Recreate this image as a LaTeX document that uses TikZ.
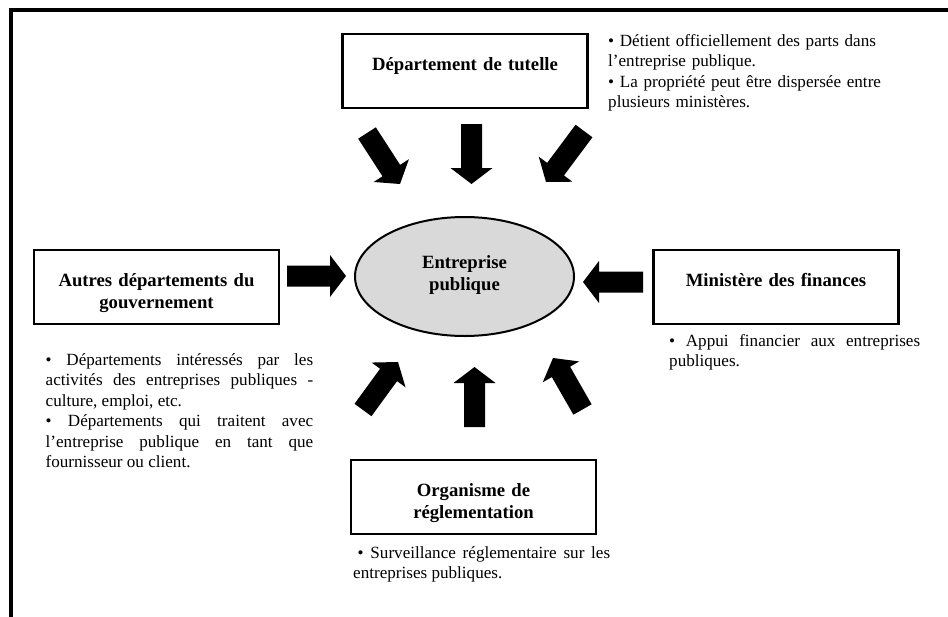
\documentclass[tikz,border=0pt]{standalone}
\usepackage{fontspec}
\setmainfont{Liberation Serif}
\usetikzlibrary{calc,shapes.geometric}
\newcommand\myblockarrow[2]{%
  \coordinate (hb) at ($(#2)!16pt!(#1)$);
  \fill[arrowfill] ($(#1)!10.5pt!90:(#2)$) -- ($(hb)!10.5pt!90:(#2)$) -- ($(hb)!21pt!90:(#2)$) -- (#2) -- ($(hb)!21pt!-90:(#2)$) -- ($(hb)!10.5pt!-90:(#2)$) -- ($(#1)!10.5pt!-90:(#2)$) -- cycle;}
\begin{document}
\begin{tikzpicture}[x=1pt,y=-1pt,
  arrowfill/.style={fill=black},
  titlebox/.style={draw, line width=2.4pt, inner sep=0pt, text width=245pt, minimum width=245pt,
     align=center, text height=36.5pt, text depth=37.5pt, anchor=north,
     font=\fontsize{18.7}{22}\selectfont\bfseries},
  bodytext/.style={inner sep=0pt, anchor=base west, font=\fontsize{17.1}{20.5}\selectfont},
  hub/.style={ellipse, draw, line width=2pt, fill=black!15, minimum width=219pt, minimum height=119pt,
     inner sep=0pt, text width=130pt, align=center, text height=15pt, text depth=32pt,
     font=\fontsize{18.7}{22}\selectfont\bfseries}]
\useasboundingbox (0,0) rectangle (948,616);
% frame
\draw[line width=4pt] (11,620) -- (11,10) -- (952,10);
% boxes
\node[titlebox] (tut) at (465,33) {Département de tutelle};
\node[titlebox] (aut) at (156.5,249) {Autres départements du\\gouvernement};
\node[titlebox] (fin) at (776,249) {Ministère des finances};
\node[titlebox] (reg) at (473.5,459) {Organisme de\\réglementation};
% centre
\node[hub] (ep) at (464.5,276.5) {Entreprise\\publique};
% descriptions
\node[bodytext, text width=290pt, align=left] (dtut) at (608,46)
  {• Détient officiellement des parts dans\\l’entreprise publique.\\• La propriété peut être dispersée entre\\plusieurs ministères.};
\node[bodytext, text width=267.5pt, align=justify] (daut) at (45.5,365)
  {• Départements intéressés par les\linebreak activités des entreprises publiques -\linebreak culture, emploi, etc.\\• Départements qui traitent avec\linebreak l’entreprise publique en tant que\linebreak fournisseur ou client.};
\node[bodytext, text width=251pt, align=justify] (dfin) at (669,346)
  {• Appui financier aux entreprises\linebreak publiques.};
\node[bodytext, text width=257pt, align=justify] (dreg) at (353,558)
  {\hspace*{4.5pt}• Surveillance réglementaire sur les\linebreak entreprises publiques.};
% arrow end points
\coordinate (a1s) at (367,133);   \coordinate (a1e) at (400,184);
\coordinate (a2s) at (471.5,124); \coordinate (a2e) at (471.5,184);
\coordinate (a3s) at (584,131);   \coordinate (a3e) at (546,182);
\coordinate (a4s) at (287,276);   \coordinate (a4e) at (346,276);
\coordinate (a5s) at (643,282);   \coordinate (a5e) at (583,282);
\coordinate (a6s) at (363,410);   \coordinate (a6e) at (398,362);
\coordinate (a7s) at (474.5,427); \coordinate (a7e) at (474.5,367);
\coordinate (a8s) at (582.5,409.5); \coordinate (a8e) at (553,358);
\myblockarrow{a1s}{a1e}
\myblockarrow{a2s}{a2e}
\myblockarrow{a3s}{a3e}
\myblockarrow{a4s}{a4e}
\myblockarrow{a5s}{a5e}
\myblockarrow{a6s}{a6e}
\myblockarrow{a7s}{a7e}
\myblockarrow{a8s}{a8e}
\end{tikzpicture}
\end{document}
